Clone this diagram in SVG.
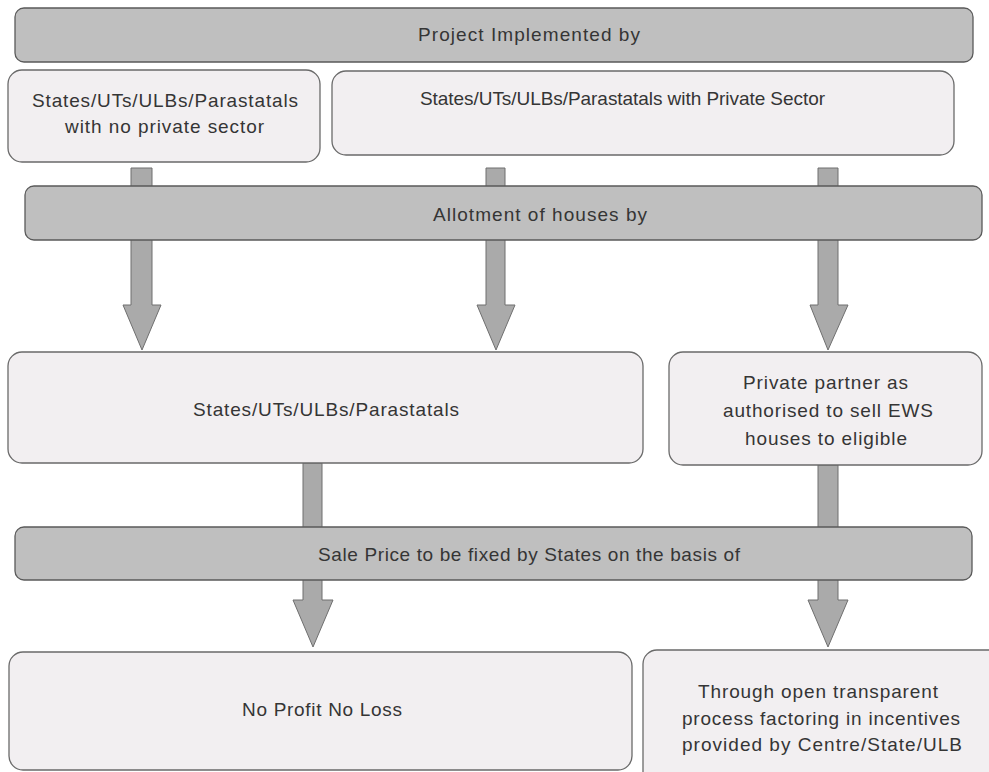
<svg xmlns="http://www.w3.org/2000/svg" width="989" height="772" viewBox="0 0 989 772">
<defs>
<style>
.bar{fill:#bfbfbf;stroke:#5a5a5a;stroke-width:1.3}
.box{fill:#f2eff1;stroke:#6a6a6a;stroke-width:1.3}
.arr{fill:#aaaaaa;stroke:#6f6f6f;stroke-width:1}
text{font-family:"Liberation Sans",Arial,sans-serif;font-size:19px;fill:#353535}
</style>
</defs>
<rect width="989" height="772" fill="#ffffff"/>
<g id="connectors">
<polygon class="arr" points="131,168 152,168 152,305 161,305 142,350 123,305 131,305"/>
<polygon class="arr" points="486,168 505,168 505,305 515,305 496,350 477,305 486,305"/>
<polygon class="arr" points="818,168 838,168 838,305 848,305 828,350 810,305 818,305"/>
<polygon class="arr" points="303,463 322,463 322,600 333,600 313,647 293,600 303,600"/>
<polygon class="arr" points="818,465 838,465 838,600 848,600 828,647 808,600 818,600"/>
</g>
<g id="bar-project">
<rect class="bar" x="15" y="8" width="958" height="54" rx="9"/>
<text x="418" y="41" textLength="222" lengthAdjust="spacing">Project Implemented by</text>
</g>
<g id="box-no-private">
<rect class="box" x="8" y="70" width="312" height="92" rx="14"/>
<text x="32" y="107" textLength="266" lengthAdjust="spacing">States/UTs/ULBs/Parastatals</text>
<text x="65" y="133" textLength="199" lengthAdjust="spacing">with no private sector</text>
</g>
<g id="box-with-private">
<rect class="box" x="332" y="71" width="622" height="84" rx="14"/>
<text x="420" y="105" textLength="405" lengthAdjust="spacing">States/UTs/ULBs/Parastatals with Private Sector</text>
</g>
<g id="bar-allotment">
<rect class="bar" x="25" y="186" width="957" height="54" rx="9"/>
<text x="433" y="221" textLength="214" lengthAdjust="spacing">Allotment of houses by</text>
</g>
<g id="box-states">
<rect class="box" x="8" y="352" width="635" height="111" rx="14"/>
<text x="193" y="416" textLength="266" lengthAdjust="spacing">States/UTs/ULBs/Parastatals</text>
</g>
<g id="box-private-partner">
<rect class="box" x="669" y="352" width="313" height="113" rx="14"/>
<text x="743" y="389" textLength="165" lengthAdjust="spacing">Private partner as</text>
<text x="723" y="417" textLength="210" lengthAdjust="spacing">authorised to sell EWS</text>
<text x="745" y="445" textLength="162" lengthAdjust="spacing">houses to eligible</text>
</g>
<g id="bar-sale-price">
<rect class="bar" x="15" y="527" width="957" height="53" rx="9"/>
<text x="318" y="561" textLength="422" lengthAdjust="spacing">Sale Price to be fixed by States on the basis of</text>
</g>
<g id="box-no-profit">
<rect class="box" x="9" y="652" width="623" height="118" rx="14"/>
<text x="242" y="716" textLength="160" lengthAdjust="spacing">No Profit No Loss</text>
</g>
<g id="box-open-process">
<rect class="box" x="643" y="650" width="360" height="140" rx="14"/>
<text x="698" y="698" textLength="240" lengthAdjust="spacing">Through open transparent</text>
<text x="682" y="725" textLength="278" lengthAdjust="spacing">process factoring in incentives</text>
<text x="682" y="751" textLength="280" lengthAdjust="spacing">provided by Centre/State/ULB</text>
</g>
</svg>
